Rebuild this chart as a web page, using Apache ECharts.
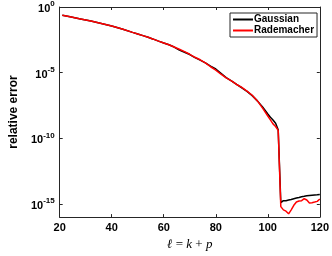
<!DOCTYPE html>
<html>
<head>
<meta charset="utf-8">
<script src="https://cdn.jsdelivr.net/npm/echarts@6/dist/echarts.min.js"></script>
<style>
html,body{margin:0;padding:0;background:#fff;}
#chart{width:332px;height:256px;}
</style>
</head>
<body>
<div id="chart"></div>
<script>
// sketch size ell = k + p
const ell = [21,24,28,32,36,40,44,48,50,52,54,56,58,60,62,64,66,68,70,72,74,76,78,80,82,84,86,88,90,92,94,96,98,100,101,102,103,104,105,106,107,108,109,110,111,112,113,114,115,116,117,118,119,120];
// relative error, Gaussian test matrix
const gaussian = [2.34e-1,1.78e-1,1.23e-1,8.51e-2,5.62e-2,3.55e-2,2.09e-2,1.17e-2,8.91e-3,6.61e-3,4.90e-3,3.55e-3,2.51e-3,1.82e-3,1.32e-3,8.91e-4,5.25e-4,3.55e-4,2.40e-4,1.41e-4,8.91e-5,5.62e-5,3.16e-5,1.91e-5,8.91e-6,4.17e-6,2.40e-6,1.26e-6,7.08e-7,3.80e-7,1.78e-7,7.08e-8,2.40e-8,7.08e-9,3.98e-9,2.51e-9,1.41e-9,4.47e-10,1.26e-15,1.78e-15,1.78e-15,2.00e-15,2.19e-15,2.51e-15,2.82e-15,3.16e-15,3.55e-15,3.80e-15,4.17e-15,4.47e-15,4.68e-15,4.90e-15,5.01e-15,5.25e-15];
// relative error, Rademacher test matrix
const rademacher = [2.34e-1,1.78e-1,1.23e-1,8.51e-2,5.62e-2,3.55e-2,2.09e-2,1.17e-2,8.91e-3,6.61e-3,4.90e-3,3.55e-3,2.51e-3,1.82e-3,1.32e-3,8.91e-4,6.03e-4,3.98e-4,2.51e-4,1.48e-4,9.55e-5,5.62e-5,2.82e-5,1.58e-5,7.59e-6,3.98e-6,2.40e-6,1.26e-6,7.59e-7,3.98e-7,1.91e-7,7.08e-8,2.00e-8,5.01e-9,2.51e-9,1.26e-9,7.94e-10,3.98e-10,6.31e-16,3.55e-16,2.82e-16,1.78e-16,3.55e-16,7.94e-16,1.41e-15,1.66e-15,1.78e-15,2.51e-15,2.00e-15,1.20e-15,1.26e-15,1.41e-15,1.58e-15,2.40e-15];
const xTicks = [20,40,60,80,100,120];
const yTickExponents = [0,-5,-10,-15];
const seriesNames = ['Gaussian','Rademacher'];

const axisColor = '#262626';
const font = 'Liberation Sans, Arial, sans-serif';

function yLabel(v){
  const e = Math.round(Math.log10(v));
  if (yTickExponents.indexOf(e) < 0) return '';
  return '{b|10}{s|' + e + '}';
}

const yBase = {
  type:'log', logBase:100000, min:1e-16, max:1,
  axisLine:{show:true, lineStyle:{color:axisColor, width:1}},
  axisTick:{show:true, inside:true, length:3, lineStyle:{color:axisColor}},
  splitLine:{show:false}, minorTick:{show:false}
};
const xBase = {
  type:'value', min:xTicks[0], max:xTicks[xTicks.length-1], interval:20,
  axisLine:{show:true, onZero:false, lineStyle:{color:axisColor, width:1}},
  axisTick:{show:true, inside:true, length:3, lineStyle:{color:axisColor}},
  splitLine:{show:false}
};

const chart = echarts.init(document.getElementById('chart'), null, {renderer:'canvas'});
chart.setOption({
  animation:false,
  backgroundColor:'#fff',
  grid:{left:45, right:9, top:6, bottom:30, containLabel:false},
  legend:{
    data:seriesNames, orient:'vertical', left:230, top:13,
    icon:'rect', itemWidth:20, itemHeight:2, itemGap:0,
    padding:[1,3,1,3], borderColor:axisColor, borderWidth:1, backgroundColor:'#fff',
    textStyle:{fontFamily:font, fontSize:10, fontWeight:'bold', color:'#000', lineHeight:11, padding:[0,0,0,-4]}
  },
  xAxis:[
    Object.assign({}, xBase, {
      position:'bottom',
      axisLabel:{show:true, margin:5, fontFamily:font, fontSize:11, fontWeight:'bold', color:'#000'},
      name:'{i|ℓ} = {i|k} + {i|p}', nameLocation:'middle', nameGap:18,
      nameTextStyle:{fontFamily:'Liberation Serif, DejaVu Serif, serif', fontSize:13, color:'#000',
        rich:{i:{fontFamily:'Liberation Serif, DejaVu Serif, serif', fontStyle:'italic', fontSize:13, color:'#000'}}}
    }),
    Object.assign({}, xBase, {position:'top', axisLabel:{show:false}})
  ],
  yAxis:[
    Object.assign({}, yBase, {
      position:'left',
      axisLabel:{show:true, margin:5, formatter:yLabel, padding:[4,0,0,0],
        rich:{
          b:{fontFamily:font, fontSize:11, fontWeight:'bold', color:'#000', lineHeight:18},
          s:{fontFamily:font, fontSize:8, fontWeight:'bold', color:'#000', lineHeight:9, verticalAlign:'top'}
        }},
      name:'relative error', nameLocation:'middle', nameGap:34,
      nameTextStyle:{fontFamily:font, fontSize:12, fontWeight:'bold', color:'#000'}
    }),
    Object.assign({}, yBase, {position:'right', axisLabel:{show:false}})
  ],
  series:[
    {name:seriesNames[0], type:'line', xAxisIndex:0, yAxisIndex:0, showSymbol:false, symbol:'none',
     data:ell.map((l,i)=>[l, gaussian[i]]), lineStyle:{color:'#000', width:1.5}, itemStyle:{color:'#000'}},
    {name:seriesNames[1], type:'line', xAxisIndex:0, yAxisIndex:0, showSymbol:false, symbol:'none',
     data:ell.map((l,i)=>[l, rademacher[i]]), lineStyle:{color:'#ff0000', width:1.5}, itemStyle:{color:'#ff0000'}}
  ]
});
</script>
</body>
</html>
